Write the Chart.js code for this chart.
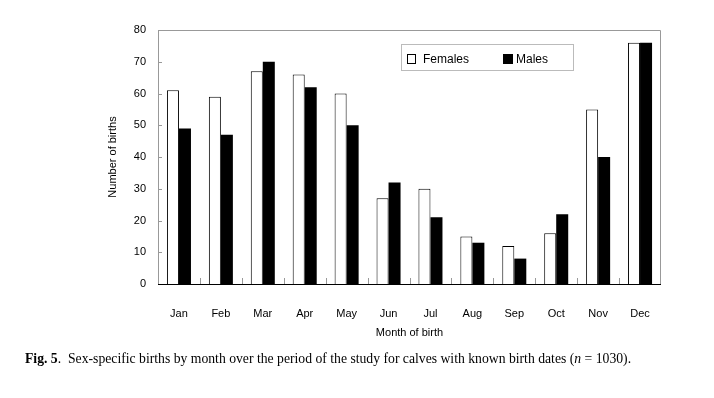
<!DOCTYPE html>
<html lang="en">
<head>
<meta charset="UTF-8">
<title>Sex-specific births by month</title>
<script src="https://cdn.jsdelivr.net/npm/chart.js@4.4.1/dist/chart.umd.min.js"></script>
<style>
    body { margin: 0; background: #fff; }
    #wrap { position: relative; width: 714px; height: 398px; }
    #caption {
        position: absolute; left: 25px; top: 351px;
        font-family: "Liberation Serif", "DejaVu Serif", serif;
        font-size: 13.7px; color: #000; white-space: nowrap;
    }
</style>
</head>
<body>
<div id="wrap">
    <canvas id="myChart" width="714" height="398"></canvas>
    <div id="caption"><b>Fig. 5</b>.&nbsp; Sex-specific births by month over the period of the study for calves with known birth dates (<i>n</i> = 1030).</div>
</div>

<script>
    const months = ['Jan', 'Feb', 'Mar', 'Apr', 'May', 'Jun', 'Jul', 'Aug', 'Sep', 'Oct', 'Nov', 'Dec'];
    const females = [61, 59, 67, 66, 60, 27, 30, 15, 12, 16, 55, 76];
    const males = [49, 47, 70, 62, 50, 32, 21, 13, 8, 22, 40, 76];
    const yTicks = [0, 10, 20, 30, 40, 50, 60, 70, 80];

    // frame, inward tick marks and the boxed legend inside the plot
    const framePlugin = {
        id: 'frame',
        afterDraw(chart) {
            const ctx = chart.ctx;
            const a = chart.chartArea;
            const x = chart.scales.x, y = chart.scales.y;
            ctx.save();
            ctx.lineWidth = 1;
            ctx.strokeStyle = '#999';
            ctx.beginPath();
            ctx.moveTo(a.left + 0.5, a.bottom);
            ctx.lineTo(a.left + 0.5, a.top + 0.5);
            ctx.lineTo(a.right - 0.5, a.top + 0.5);
            ctx.lineTo(a.right - 0.5, a.bottom);
            ctx.stroke();

            // y ticks
            yTicks.forEach(v => {
                const py = Math.round(y.getPixelForValue(v)) + 0.5;
                ctx.beginPath();
                ctx.moveTo(a.left, py);
                ctx.lineTo(a.left + 4, py);
                ctx.stroke();
            });
            // x ticks between months
            for (let i = 0; i < months.length - 1; i++) {
                const px = Math.round((x.getPixelForTick(i) + x.getPixelForTick(i + 1)) / 2) + 0.5;
                ctx.beginPath();
                ctx.moveTo(px, a.bottom);
                ctx.lineTo(px, a.bottom - 6);
                ctx.stroke();
            }

            // bottom axis
            ctx.strokeStyle = '#000';
            ctx.beginPath();
            ctx.moveTo(a.left, Math.round(a.bottom) + 0.5);
            ctx.lineTo(a.right, Math.round(a.bottom) + 0.5);
            ctx.stroke();

            // legend box
            ctx.fillStyle = '#fff';
            ctx.fillRect(401, 44, 173, 27);
            ctx.strokeStyle = '#bbb';
            ctx.strokeRect(401.5, 44.5, 172, 26);
            ctx.fillStyle = '#fff';
            ctx.fillRect(407, 54, 9, 9);
            ctx.strokeStyle = '#000';
            ctx.strokeRect(407.5, 54.5, 8, 9);
            ctx.fillStyle = '#000';
            ctx.fillRect(503, 54, 10, 10);
            ctx.font = '12px "Liberation Sans", Arial, sans-serif';
            ctx.textBaseline = 'middle';
            ctx.fillText(chart.data.datasets[0].label, 423, 59.5);
            ctx.fillText(chart.data.datasets[1].label, 516, 59.5);
            ctx.restore();
        }
    };

    const ctx = document.getElementById('myChart').getContext('2d');
    const myChart = new Chart(ctx, {
        type: 'bar',
        data: {
            labels: months,
            datasets: [{
                label: 'Females',
                data: females,
                backgroundColor: '#fff',
                borderColor: '#000',
                borderWidth: 1,
                barPercentage: 1,
                categoryPercentage: 0.573
            }, {
                label: 'Males',
                data: males,
                backgroundColor: '#000',
                borderWidth: 0,
                barPercentage: 1,
                categoryPercentage: 0.573
            }]
        },
        options: {
            responsive: false,
            animation: false,
            layout: { padding: { left: 100, right: 53, top: 30, bottom: 50 } },
            plugins: {
                legend: { display: false },
                tooltip: { enabled: false }
            },
            scales: {
                x: {
                    grid: { display: false, drawTicks: false },
                    border: { display: false },
                    ticks: {
                        color: '#000',
                        padding: 23,
                        font: { family: '"Liberation Sans", Arial, sans-serif', size: 11 }
                    },
                    title: {
                        display: true,
                        text: 'Month of birth',
                        color: '#000',
                        padding: { top: 0, bottom: 8 },
                        font: { family: '"Liberation Sans", Arial, sans-serif', size: 11 }
                    },
                    afterFit(scale) { scale.height = 64; }
                },
                y: {
                    min: 0,
                    max: 80,
                    grid: { display: false, drawTicks: false },
                    border: { display: false },
                    afterBuildTicks(scale) { scale.ticks = yTicks.map(v => ({ value: v })); },
                    ticks: {
                        color: '#000',
                        padding: 12,
                        font: { family: '"Liberation Sans", Arial, sans-serif', size: 11 }
                    },
                    title: {
                        display: true,
                        text: 'Number of births',
                        color: '#000',
                        padding: { top: 6, bottom: 0 },
                        font: { family: '"Liberation Sans", Arial, sans-serif', size: 11 }
                    },
                    afterFit(scale) { scale.width = 58; }
                }
            }
        },
        plugins: [framePlugin]
    });
</script>
</body>
</html>
